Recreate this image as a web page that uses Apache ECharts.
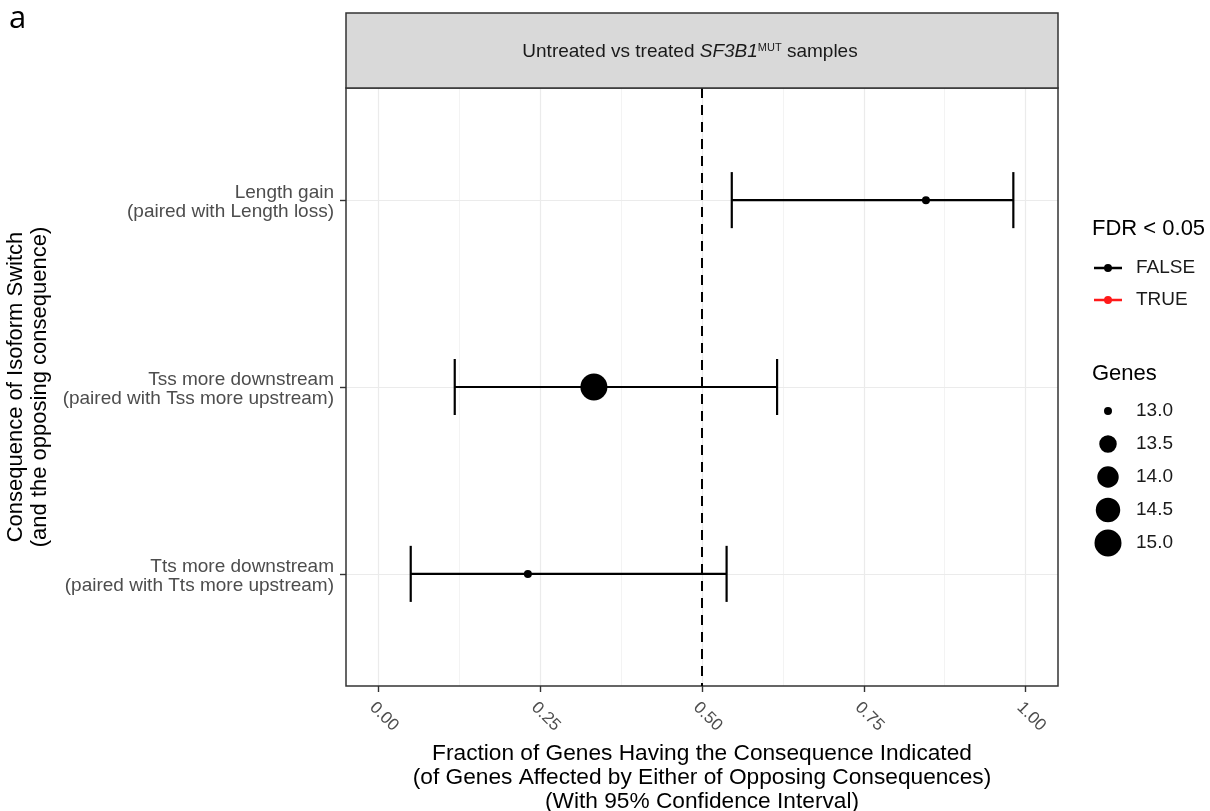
<!DOCTYPE html>
<html><head><meta charset="utf-8">
<script src="https://cdn.jsdelivr.net/npm/echarts@6/dist/echarts.min.js"></script>
<style>html,body{margin:0;padding:0;background:#fff}#c{width:1210px;height:811px}</style>
</head><body><div id="c"></div>
<script>
// ---- data ----
const categories = [
  'Length gain\n(paired with Length loss)',
  'Tss more downstream\n(paired with Tss more upstream)',
  'Tts more downstream\n(paired with Tts more upstream)'
];
const fraction = [0.846, 0.333, 0.231];
const ciLow = [0.546, 0.118, 0.050];
const ciHigh = [0.981, 0.616, 0.538];
const genes = [13, 15, 13];
const fdrSignificant = [false, false, false];
const xTickValues = [0, 0.25, 0.5, 0.75, 1];
const fdrLegend = ['FALSE', 'TRUE'];
const genesLegend = ['13.0', '13.5', '14.0', '14.5', '15.0'];

// ---- styles / scales ----
const FONT = 'Liberation Sans, Arial, Helvetica, sans-serif';
const gMin = 13, gMax = 15, dMin = 8, dMax = 27;
function sizeOf(g) { return dMin + (dMax - dMin) * Math.sqrt((g - gMin) / (gMax - gMin)); }
const fdrColor = { 'FALSE': '#000000', 'TRUE': '#FF1A1A' };

// panel geometry (ggplot discrete expansion 0.6)
const PL = 346, PR = 1210 - 1058, PT = 88, PB = 811 - 686;
const PW = 1210 - PL - PR, PH = 811 - PT - PB;
const XMIN = -0.05, XMAX = 1.05;
const bandH = PH / (categories.length - 1 + 1.2);
const dataTop = PT + (0.6 - 0.5) * bandH;
const dataBottom = PB + (0.6 - 0.5) * bandH;
const x0px = PL + (0 - XMIN) / (XMAX - XMIN) * PW;
const x1px = PL + (1 - XMIN) / (XMAX - XMIN) * PW;

function circleIcon(r) {
  const c = 14;
  return 'path://M' + (c - r) + ',' + c + ' A' + r + ',' + r + ' 0 1,1 ' + (c + r) + ',' + c +
    ' A' + r + ',' + r + ' 0 1,1 ' + (c - r) + ',' + c + ' Z M0,0 L0.01,0 L0,0.01 Z M37,28 L36.99,28 L37,27.99 Z';
}
const lineDotIcon = 'path://M0,2.7 L28,2.7 L28,5.3 L0,5.3 Z M10,4 A4,4 0 0,1 18,4 A4,4 0 0,1 10,4 Z M37,8 L36.99,8 L37,7.99 Z';

const ciData = categories.map((c, i) => [ciLow[i], ciHigh[i], i, fdrSignificant[i] ? 'TRUE' : 'FALSE']);
const pointData = categories.map((c, i) => ({
  value: [fraction[i], i, genes[i]],
  itemStyle: { color: fdrColor[fdrSignificant[i] ? 'TRUE' : 'FALSE'], opacity: 1 }
}));

const chart = echarts.init(document.getElementById('c'), null, { renderer: 'canvas' });

const legendSeries = fdrLegend.map(n => ({
  name: n, type: 'scatter', xAxisIndex: 2, yAxisIndex: 2, data: [],
  itemStyle: { color: fdrColor[n], opacity: 1 }
})).concat(genesLegend.map(n => ({
  name: n, type: 'scatter', xAxisIndex: 2, yAxisIndex: 2, data: [],
  itemStyle: { color: '#000000', opacity: 1 }
})));

const yLabelStyle = { fontFamily: FONT, fontSize: 19, lineHeight: 19, color: '#4D4D4D', align: 'right' };

const option = {
  animation: false,
  backgroundColor: '#ffffff',
  textStyle: { fontFamily: FONT },
  title: [
    { text: 'FDR < 0.05', left: 1092, top: 218, padding: 0,
      textStyle: { fontFamily: FONT, fontSize: 22, fontWeight: 'normal', color: '#000' } },
    { text: 'Genes', left: 1092, top: 363, padding: 0,
      textStyle: { fontFamily: FONT, fontSize: 22, fontWeight: 'normal', color: '#000' } }
  ],
  legend: [
    {
      orient: 'vertical', left: 1094, top: 258, padding: 0, itemGap: 12,
      itemWidth: 37, itemHeight: 8, selectedMode: false,
      textStyle: { fontFamily: FONT, fontSize: 19, color: '#1a1a1a', lineHeight: 20 },
      data: fdrLegend.map(n => ({ name: n, icon: lineDotIcon }))
    },
    {
      orient: 'vertical', left: 1094, top: 397, padding: 0, itemGap: 5,
      itemWidth: 37, itemHeight: 28, selectedMode: false,
      textStyle: { fontFamily: FONT, fontSize: 19, color: '#1a1a1a' },
      data: genesLegend.map(n => ({ name: n, icon: circleIcon(sizeOf(parseFloat(n)) / 2) }))
    }
  ],
  graphic: [
    { type: 'rect', shape: { x: PL, y: 13, width: PW, height: PT - 13 },
      style: { fill: '#D9D9D9', stroke: '#333333', lineWidth: 1.5 }, z: 10 },
    { type: 'text', x: 690, y: 52, z: 11,
      style: {
        text: '{n|Untreated vs treated }{i|SF3B1}{s|MUT}{n| samples}',
        align: 'center', verticalAlign: 'middle',
        rich: {
          n: { fontFamily: FONT, fontSize: 19, fill: '#1a1a1a' },
          i: { fontFamily: FONT, fontSize: 19, fontStyle: 'italic', fill: '#1a1a1a' },
          s: { fontFamily: FONT, fontSize: 11, fill: '#1a1a1a', verticalAlign: 'top' }
        }
      } },
    { type: 'text', x: 9, y: 4, style: { text: 'a', font: '31px "Open Sans", ' + FONT, fill: '#000', verticalAlign: 'top' } }
  ],
  grid: [
    // 0: panel frame
    { left: PL, right: PR, top: PT, bottom: PB, show: true, borderColor: '#333333', borderWidth: 1.5,
      backgroundColor: 'transparent', z: 3, outerBoundsMode: 'none', containLabel: false },
    // 1: x gridlines / x axis (0..1)
    { left: x0px, right: 1210 - x1px, top: PT, bottom: PB, outerBoundsMode: 'none', containLabel: false },
    // 2: data
    { left: PL, right: PR, top: dataTop, bottom: dataBottom, outerBoundsMode: 'none', containLabel: false }
  ],
  xAxis: [
    { gridIndex: 0, type: 'value', min: XMIN, max: XMAX, show: false },
    {
      gridIndex: 1, type: 'value', min: 0, max: 1, interval: 0.25, position: 'bottom',
      axisLine: { show: false, onZero: false },
      axisTick: { show: true, inside: false, length: 6, lineStyle: { color: '#333333', width: 1.4 } },
      axisLabel: {
        rotate: -45, margin: 13, color: '#4D4D4D', fontFamily: FONT, fontSize: 17,
        align: 'left', verticalAlign: 'top',
        formatter: v => v.toFixed(2)
      },
      splitLine: { show: true, lineStyle: { color: '#EBEBEB', width: 1.2 } },
      minorTick: { show: false, splitNumber: 2 },
      minorSplitLine: { show: true, lineStyle: { color: '#F0F0F0', width: 0.8 } },
      name: 'Fraction of Genes Having the Consequence Indicated\n(of Genes Affected by Either of Opposing Consequences)\n(With 95% Confidence Interval)',
      nameLocation: 'middle', nameGap: 39,
      nameTextStyle: { fontFamily: FONT, fontSize: 22.7, color: '#000', lineHeight: 24, align: 'center' }
    },
    { gridIndex: 2, type: 'value', min: XMIN, max: XMAX, show: false }
  ],
  yAxis: [
    { gridIndex: 0, type: 'value', min: 0, max: 1, show: false },
    { gridIndex: 1, type: 'value', min: 0, max: 1, show: false },
    {
      gridIndex: 2, type: 'category', data: categories, inverse: true, position: 'left',
      axisLine: { show: false, onZero: false },
      axisTick: { show: true, inside: false, length: 6, alignWithLabel: true, lineStyle: { color: '#333333', width: 1.4 } },
      axisLabel: {
        margin: 12, align: 'right', color: '#4D4D4D', fontFamily: FONT, fontSize: 19,
        formatter: v => '{sp| }\n' + v.split('\n').map(s => '{a|' + s + '}').join('\n'),
        rich: {
          sp: { fontSize: 1, lineHeight: 5 },
          a: yLabelStyle
        }
      },
      splitLine: { show: false },
      name: 'Consequence of Isoform Switch\n(and the opposing consequence)',
      nameLocation: 'middle', nameRotate: 90, nameGap: 281,
      nameTextStyle: { fontFamily: FONT, fontSize: 22, color: '#000', lineHeight: 24, align: 'center' }
    }
  ],
  series: [
    {
      name: 'hgrid', type: 'scatter', xAxisIndex: 2, yAxisIndex: 2, data: [], silent: true, z: 1,
      markLine: {
        silent: true, symbol: ['none', 'none'], label: { show: false }, z: 1,
        lineStyle: { color: '#EBEBEB', width: 1.2, type: 'solid' },
        data: categories.map(c => ({ yAxis: c }))
      }
    },
    {
      name: 'ref', type: 'line', xAxisIndex: 1, yAxisIndex: 1, data: [], silent: true, z: 3,
      markLine: {
        silent: true, symbol: ['none', 'none'], label: { show: false },
        lineStyle: { color: '#000', width: 2, type: [10, 7] },
        data: [[{ xAxis: 0.5, yAxis: 1 }, { xAxis: 0.5, yAxis: 0 }]]
      }
    },
    {
      name: 'ci', type: 'custom', xAxisIndex: 2, yAxisIndex: 2, data: ciData, z: 4,
      encode: { x: [0, 1], y: 2 },
      renderItem: function (params, api) {
        const y = api.value(2);
        const p1 = api.coord([api.value(0), y]);
        const p2 = api.coord([api.value(1), y]);
        const h = api.size([0, 1])[1] * 0.3;
        const col = fdrColor[api.value(3)] || '#000';
        const st = { stroke: col, lineWidth: 2.2, fill: null };
        return {
          type: 'group', children: [
            { type: 'line', shape: { x1: p1[0], y1: p1[1], x2: p2[0], y2: p2[1] }, style: st },
            { type: 'line', shape: { x1: p1[0], y1: p1[1] - h / 2, x2: p1[0], y2: p1[1] + h / 2 }, style: st },
            { type: 'line', shape: { x1: p2[0], y1: p2[1] - h / 2, x2: p2[0], y2: p2[1] + h / 2 }, style: st }
          ]
        };
      }
    },
    {
      name: 'points', type: 'scatter', xAxisIndex: 2, yAxisIndex: 2, z: 5,
      symbol: 'circle', symbolSize: v => sizeOf(v[2]),
      itemStyle: { opacity: 1 },
      data: pointData
    }
  ].concat(legendSeries)
};
chart.setOption(option);
</script>
</body></html>
